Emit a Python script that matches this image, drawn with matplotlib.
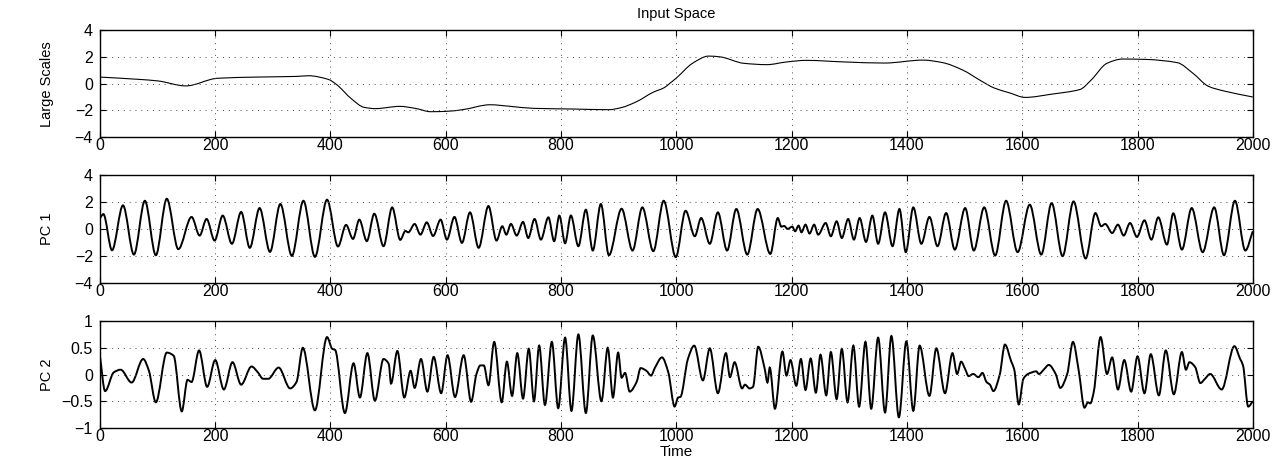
import numpy as np
import matplotlib
matplotlib.use("Agg")
import matplotlib.pyplot as plt
from matplotlib.path import Path
from matplotlib.patches import PathPatch

# values (turning points and shoulders)
large_x = [0, 67, 101, 149, 204, 272, 341, 362, 396, 410, 437, 458, 478, 520, 547,
           574, 602, 629, 677, 712, 753, 822, 883, 904, 931, 959, 979, 988, 1000,
           1028, 1056, 1076, 1117, 1157, 1191, 1225, 1293, 1361, 1428, 1462, 1496,
           1530, 1551, 1578, 1605, 1652, 1700, 1720, 1747, 1774, 1815, 1869, 1896,
           1923, 1951, 2000]
large_y = [0.49, 0.32, 0.2, -0.17, 0.4, 0.49, 0.54, 0.59, 0.32, -0.05, -1.16, -1.77,
           -1.87, -1.7, -1.85, -2.1, -2.07, -1.95, -1.58, -1.7, -1.85, -1.9, -1.95,
           -1.8, -1.35, -0.66, -0.3, 0.0, 0.42, 1.52, 2.06, 2.0, 1.52, 1.42, 1.62,
           1.74, 1.62, 1.54, 1.76, 1.57, 1.03, 0.17, -0.32, -0.69, -1.03, -0.78,
           -0.44, 0.29, 1.52, 1.84, 1.81, 1.57, 0.78, -0.2, -0.56, -1.0]

pc1_x = [0, 6, 21, 40, 59, 78, 97, 116, 136, 159, 173, 185, 199, 213, 229, 245, 260,
         277, 295, 313, 333, 353, 373, 394, 413, 427, 439, 450, 463, 476, 492, 507,
         521, 530, 535, 546, 556, 567, 578, 591, 602, 615, 628, 642, 657, 674, 688,
         698, 705, 713, 723, 734, 743, 754, 765, 778, 788, 797, 807, 817, 830, 843,
         855, 869, 883, 905, 924, 941, 960, 978, 999, 1016, 1032, 1043, 1058, 1072,
         1088, 1104, 1123, 1141, 1163, 1176, 1182, 1187, 1193, 1201, 1206, 1212,
         1217, 1224, 1231, 1239, 1246, 1259, 1268, 1278, 1287, 1298, 1308, 1318,
         1329, 1340, 1350, 1362, 1375, 1387, 1398, 1411, 1425, 1439, 1453, 1468,
         1483, 1501, 1516, 1534, 1553, 1572, 1592, 1613, 1633, 1651, 1670, 1689,
         1710, 1727, 1737, 1744, 1756, 1766, 1776, 1787, 1799, 1812, 1824, 1836,
         1851, 1862, 1877, 1894, 1913, 1933, 1950, 1969, 1987, 2000]
pc1_y = [0.8, 1.1, -1.58, 1.75, -1.9, 2.09, -1.95, 2.24, -1.5, 0.89, -0.49, 0.74,
         -0.86, 0.99, -1.1, 1.26, -1.4, 1.55, -1.7, 1.85, -2.0, 2.09, -2.07, 2.17,
         -1.3, 0.3, -0.74, 0.69, -0.9, 1.13, -1.28, 1.6, -0.81, -0.15, -0.25, 0.37,
         -0.42, 0.49, -0.52, 0.69, -0.79, 0.89, -1.03, 1.23, -1.4, 1.7, -0.86, 0.2,
         -0.42, 0.37, -0.49, 0.52, -0.67, 0.74, -0.79, 0.86, -0.91, 0.99, -1.06, 1.0,
         -1.28, 1.43, -1.6, 1.85, -1.95, 1.5, -1.6, 1.6, -1.65, 2.09, -2.09, 1.35,
         -0.54, 0.81, -1.1, 1.23, -1.6, 1.48, -1.9, 1.48, -1.85, 0.81, 0.17, 0.22,
         0.0, 0.17, -0.17, 0.25, -0.25, 0.32, -0.34, 0.32, -0.42, 0.44, -0.54, 0.57,
         -0.67, 0.74, -0.79, 0.81, -0.96, 0.99, -1.1, 1.23, -1.28, 1.48, -1.72, 1.6,
         -1.1, 0.89, -1.28, 1.18, -1.53, 1.55, -1.6, 1.6, -1.97, 2.09, -1.72, 1.8,
         -1.9, 1.92, -2.02, 2.04, -2.19, 1.18, 0.2, 0.37, -0.3, 0.32, -0.49, 0.44,
         -0.59, 0.64, -0.79, 0.86, -1.16, 1.16, -1.53, 1.55, -1.72, 1.6, -1.95, 2.09,
         -1.6, -0.17]

pc2_x = [0, 9, 24, 36, 55, 75, 85, 97, 116, 128, 142, 152, 159, 172, 186, 200, 215,
         230, 245, 263, 274, 283, 292, 310, 330, 341, 352, 373, 394, 403, 408, 425,
         440, 451, 464, 477, 492, 501, 505, 516, 528, 539, 546, 557, 568, 579, 592,
         603, 616, 631, 644, 653, 660, 666, 674, 684, 697, 706, 715, 724, 734, 744,
         753, 762, 772, 784, 795, 807, 818, 830, 843, 855, 870, 881, 890, 899, 905,
         911, 919, 931, 938, 948, 956, 963, 975, 986, 997, 1003, 1007, 1020, 1031,
         1046, 1058, 1072, 1086, 1093, 1101, 1114, 1119, 1127, 1133, 1142, 1153,
         1158, 1162, 1171, 1184, 1191, 1198, 1208, 1216, 1224, 1233, 1242, 1250,
         1260, 1268, 1278, 1287, 1297, 1307, 1317, 1328, 1338, 1350, 1362, 1373,
         1386, 1399, 1411, 1422, 1439, 1451, 1466, 1479, 1487, 1494, 1501, 1507,
         1515, 1524, 1531, 1538, 1544, 1550, 1561, 1570, 1581, 1586, 1594, 1602,
         1610, 1617, 1624, 1629, 1638, 1646, 1658, 1666, 1678, 1688, 1698, 1708,
         1714, 1718, 1724, 1736, 1747, 1756, 1766, 1777, 1789, 1800, 1812, 1823,
         1837, 1849, 1863, 1877, 1884, 1890, 1900, 1909, 1917, 1926, 1946, 1968,
         1978, 1983, 1992, 2000]
pc2_y = [0.35, -0.31, 0.04, 0.09, -0.15, 0.29, 0.07, -0.52, 0.41, 0.35, -0.69, -0.1,
         -0.14, 0.45, -0.23, 0.27, -0.28, 0.23, -0.19, 0.15, 0.04, -0.08, -0.08, 0.13,
         -0.26, -0.14, 0.5, -0.67, 0.7, 0.48, 0.46, -0.72, 0.21, -0.43, 0.4, -0.49,
         0.29, 0.2, -0.17, 0.44, -0.43, 0.07, -0.25, 0.29, -0.32, 0.33, -0.35, 0.36,
         -0.42, 0.36, -0.51, 0.0, 0.17, 0.17, -0.2, 0.61, -0.52, 0.24, -0.4, 0.4,
         -0.45, 0.48, -0.5, 0.54, -0.57, 0.61, -0.63, 0.69, -0.68, 0.75, -0.72, 0.73,
         -0.5, 0.5, -0.43, 0.41, -0.06, 0.03, -0.32, -0.14, 0.12, 0.07, -0.02, 0.13,
         0.32, 0.04, -0.6, -0.43, -0.42, 0.29, 0.54, -0.11, 0.49, -0.35, 0.4, -0.05,
         0.23, -0.26, -0.19, -0.26, -0.23, 0.52, 0.12, -0.15, 0.13, -0.64, 0.43,
         -0.02, 0.27, -0.21, 0.29, -0.29, 0.3, -0.34, 0.37, -0.39, 0.42, -0.46, 0.48,
         -0.52, 0.54, -0.6, 0.61, -0.64, 0.69, -0.71, 0.72, -0.8, 0.62, -0.68, 0.54,
         -0.4, 0.49, -0.35, 0.4, 0.01, 0.24, 0.1, -0.03, 0.01, -0.05, 0.03, -0.14,
         -0.19, -0.31, 0.0, 0.56, 0.24, 0.1, -0.56, -0.08, 0.01, 0.04, 0.06, 0.01,
         0.1, 0.18, 0.01, -0.25, 0.01, 0.61, 0.07, -0.62, -0.52, -0.54, -0.33, 0.7,
         0.01, 0.32, -0.28, 0.27, -0.32, 0.34, -0.35, 0.38, -0.39, 0.45, -0.37, 0.42,
         0.09, 0.23, 0.14, -0.16, -0.08, 0.01, -0.28, 0.53, 0.29, 0.17, -0.6, -0.5]

xticks = [0, 200, 400, 600, 800, 1000, 1200, 1400, 1600, 1800, 2000]
big_yticks = [-4, -2, 0, 2, 4]
big_ylabels = ['\u22124', '\u22122', '0', '2', '4']
pc2_yticks = [-1, -0.5, 0, 0.5, 1]
pc2_ylabels = ['\u22121', '\u22120.5', '0', '0.5', '1']

plt.rcParams['font.family'] = ['Liberation Sans', 'DejaVu Sans']
narrow = ['Liberation Sans Narrow', 'Liberation Sans', 'DejaVu Sans']


def smooth_path(x, y):
    # cubic bezier segments through the read points, flat at turning points
    x = np.asarray(x, float)
    y = np.asarray(y, float)
    dx = np.diff(x)
    s = np.diff(y) / dx
    m = np.zeros_like(y)
    m[0], m[-1] = s[0], s[-1]
    for i in range(1, len(y) - 1):
        if s[i - 1] * s[i] > 0:
            m[i] = 2.0 / (1.0 / s[i - 1] + 1.0 / s[i])
    verts = [(x[0], y[0])]
    codes = [Path.MOVETO]
    for i in range(len(dx)):
        h = dx[i] / 3.0
        verts += [(x[i] + h, y[i] + m[i] * h),
                  (x[i + 1] - h, y[i + 1] - m[i + 1] * h),
                  (x[i + 1], y[i + 1])]
        codes += [Path.CURVE4] * 3
    return Path(verts, codes)


def style_axes(ax, yticks, ylabels, ylabel):
    ax.set_xlim(0, 2000)
    ax.set_ylim(yticks[0], yticks[-1])
    ax.set_xticks(xticks)
    ax.set_yticks(yticks)
    ax.set_yticklabels(ylabels)
    ax.grid(True, color='0.3', linestyle=(0, (1, 5)), linewidth=0.7)
    ax.tick_params(direction='in', top=True, right=True, length=4,
                   labelsize=11.5, width=0.8)
    ax.tick_params(axis='x', pad=1)
    ax.tick_params(axis='y', pad=5)
    for sp in ax.spines.values():
        sp.set_linewidth(1.0)
    ax.set_ylabel(ylabel, family=narrow, fontsize=10.5)
    ax.yaxis.set_label_coords(-0.04, 0.5)


fig = plt.figure(figsize=(12.81, 4.57), dpi=100)
ax1 = fig.add_axes([0.078, 0.700, 0.900, 0.234])
ax2 = fig.add_axes([0.078, 0.381, 0.900, 0.236])
ax3 = fig.add_axes([0.078, 0.0635, 0.900, 0.234])

ax1.add_patch(PathPatch(smooth_path(large_x, large_y), fill=False, ec='k', lw=0.8))
ax2.add_patch(PathPatch(smooth_path(pc1_x, pc1_y), fill=False, ec='k', lw=1.4))
ax3.add_patch(PathPatch(smooth_path(pc2_x, pc2_y), fill=False, ec='k', lw=1.4))

style_axes(ax1, big_yticks, big_ylabels, 'Large Scales')
style_axes(ax2, big_yticks, big_ylabels, 'PC 1')
style_axes(ax3, pc2_yticks, pc2_ylabels, 'PC 2')

ax1.set_title('Input Space', fontsize=10.5, pad=9)
ax3.set_xlabel('Time', fontsize=11)
ax3.xaxis.set_label_coords(0.5, -0.155)

fig.savefig('out.png', dpi=100)
